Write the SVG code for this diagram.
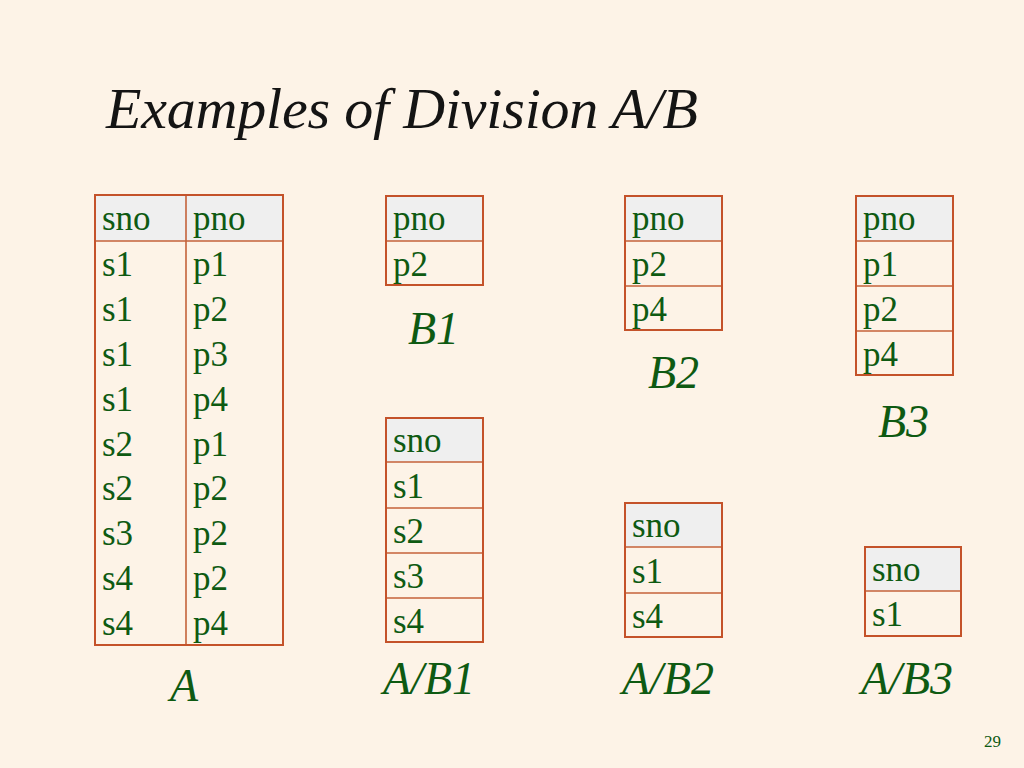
<svg xmlns="http://www.w3.org/2000/svg" width="1024" height="768" viewBox="0 0 1024 768">
<style>
.bg{fill:#fdf3e7}
.hd{fill:#efefef}
.frame{fill:none;stroke:#c4522a;stroke-width:2}
.ln{stroke:#c4623a;stroke-width:1.6}
.cell{font-family:"Liberation Serif",serif;font-size:35px;fill:#0e5a12}
.lbl{font-family:"Liberation Serif",serif;font-style:italic;font-size:46px;fill:#0e5a12}
.title{font-family:"Liberation Serif",serif;font-style:italic;font-size:58px;fill:#141414}
.pg{font-family:"Liberation Serif",serif;font-size:17px;fill:#0e5a12}
</style>
<rect class="bg" x="0" y="0" width="1024" height="768"/>
<text class="title" x="106" y="128" textLength="592" lengthAdjust="spacing">Examples of Division A/B</text>

<g id="tableA">
<rect class="hd" x="95" y="195" width="188" height="46"/>
<line class="ln" x1="95" y1="241" x2="283" y2="241"/>
<line class="ln" x1="186" y1="195" x2="186" y2="645"/>
<rect class="frame" x="95" y="195" width="188" height="450"/>
<text class="cell" x="102" y="230">sno</text><text class="cell" x="193" y="230">pno</text>
<text class="cell" x="102" y="276">s1</text><text class="cell" x="193" y="276">p1</text>
<text class="cell" x="102" y="321">s1</text><text class="cell" x="193" y="321">p2</text>
<text class="cell" x="102" y="366">s1</text><text class="cell" x="193" y="366">p3</text>
<text class="cell" x="102" y="411">s1</text><text class="cell" x="193" y="411">p4</text>
<text class="cell" x="102" y="456">s2</text><text class="cell" x="193" y="456">p1</text>
<text class="cell" x="102" y="500">s2</text><text class="cell" x="193" y="500">p2</text>
<text class="cell" x="102" y="545">s3</text><text class="cell" x="193" y="545">p2</text>
<text class="cell" x="102" y="590">s4</text><text class="cell" x="193" y="590">p2</text>
<text class="cell" x="102" y="635">s4</text><text class="cell" x="193" y="635">p4</text>
<text class="lbl" x="170" y="701">A</text>
</g>

<g id="tableB1">
<rect class="hd" x="386" y="196" width="97" height="45"/>
<line class="ln" x1="386" y1="241" x2="483" y2="241"/>
<rect class="frame" x="386" y="196" width="97" height="89"/>
<text class="cell" x="393" y="230">pno</text>
<text class="cell" x="393" y="276">p2</text>
<text class="lbl" x="408" y="344">B1</text>
</g>

<g id="tableB2">
<rect class="hd" x="625" y="196" width="97" height="45"/>
<line class="ln" x1="625" y1="241" x2="722" y2="241"/>
<line class="ln" x1="625" y1="286" x2="722" y2="286"/>
<rect class="frame" x="625" y="196" width="97" height="134"/>
<text class="cell" x="632" y="230">pno</text>
<text class="cell" x="632" y="276">p2</text>
<text class="cell" x="632" y="321">p4</text>
<text class="lbl" x="648" y="388">B2</text>
</g>

<g id="tableB3">
<rect class="hd" x="856" y="196" width="97" height="45"/>
<line class="ln" x1="856" y1="241" x2="953" y2="241"/>
<line class="ln" x1="856" y1="286" x2="953" y2="286"/>
<line class="ln" x1="856" y1="331" x2="953" y2="331"/>
<rect class="frame" x="856" y="196" width="97" height="179"/>
<text class="cell" x="863" y="230">pno</text>
<text class="cell" x="863" y="276">p1</text>
<text class="cell" x="863" y="321">p2</text>
<text class="cell" x="863" y="366">p4</text>
<text class="lbl" x="878" y="437">B3</text>
</g>

<g id="tableAB1">
<rect class="hd" x="386" y="418" width="97" height="44"/>
<line class="ln" x1="386" y1="462" x2="483" y2="462"/>
<line class="ln" x1="386" y1="508" x2="483" y2="508"/>
<line class="ln" x1="386" y1="553" x2="483" y2="553"/>
<line class="ln" x1="386" y1="598" x2="483" y2="598"/>
<rect class="frame" x="386" y="418" width="97" height="224"/>
<text class="cell" x="393" y="452">sno</text>
<text class="cell" x="393" y="498">s1</text>
<text class="cell" x="393" y="543">s2</text>
<text class="cell" x="393" y="588">s3</text>
<text class="cell" x="393" y="633">s4</text>
<text class="lbl" x="383" y="694">A/B1</text>
</g>

<g id="tableAB2">
<rect class="hd" x="625" y="503" width="97" height="44"/>
<line class="ln" x1="625" y1="547" x2="722" y2="547"/>
<line class="ln" x1="625" y1="593" x2="722" y2="593"/>
<rect class="frame" x="625" y="503" width="97" height="134"/>
<text class="cell" x="632" y="537">sno</text>
<text class="cell" x="632" y="583">s1</text>
<text class="cell" x="632" y="628">s4</text>
<text class="lbl" x="622" y="694">A/B2</text>
</g>

<g id="tableAB3">
<rect class="hd" x="865" y="547" width="96" height="44"/>
<line class="ln" x1="865" y1="591" x2="961" y2="591"/>
<rect class="frame" x="865" y="547" width="96" height="89"/>
<text class="cell" x="872" y="581">sno</text>
<text class="cell" x="872" y="626">s1</text>
<text class="lbl" x="861" y="694">A/B3</text>
</g>

<g id="connectors"></g>
<text class="pg" x="984" y="747">29</text>
</svg>
